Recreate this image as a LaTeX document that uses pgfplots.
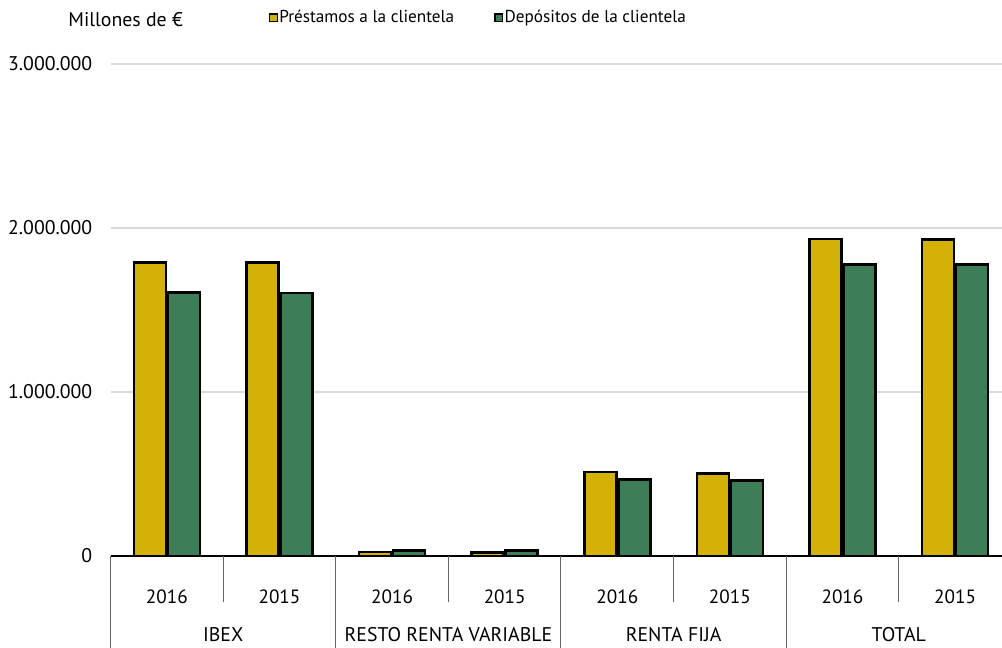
\documentclass[border=0pt]{standalone}
\usepackage{fontspec}
\setmainfont{PT Sans}
\usepackage{pgfplots}
\pgfplotsset{compat=1.18}
\definecolor{cYel}{HTML}{D3B106}
\definecolor{cGrn}{HTML}{3D7D58}
\definecolor{cGrid}{HTML}{DADADA}
\begin{document}
\begin{tikzpicture}
\useasboundingbox (0,0) rectangle (501pt,324pt);
\begin{axis}[
  at={(55.3pt,46pt)}, anchor=south west,
  scale only axis, width=450.4pt, height=246pt,
  xmin=-0.5, xmax=7.5, ymin=0, ymax=3000000,
  scaled y ticks=false,
  axis x line*=bottom, axis y line*=left,
  y axis line style={draw=none},
  x axis line style={black, line width=0.6pt},
  xtick=data,
  xticklabels={2016,2015,2016,2015,2016,2015,2016,2015},
  xtick style={draw=none},
  xticklabel style={anchor=center, yshift=-16pt, font=\fontsize{9.6}{11}\selectfont},
  ytick={0,1000000,2000000,3000000},
  yticklabels={0,1.000.000,2.000.000,3.000.000},
  ytick style={draw=none},
  yticklabel style={anchor=east, inner sep=0pt, xshift=-9pt, font=\fontsize{9.9}{11}\selectfont},
  ymajorgrids, grid style={cGrid, line width=0.6pt},
  ybar, bar width=0.284,
  clip=false,
  legend columns=2,
  legend style={at={(0.1755,1.094)}, anchor=west, draw=none, fill=none, inner sep=0pt,
    nodes={inner xsep=0.6pt},
    font=\fontsize{8.6}{11}\selectfont, /tikz/every even column/.append style={column sep=19.5pt}},
  legend image code/.code={\draw[#1, line width=0.7pt] (0pt,-1.9pt) rectangle (3.8pt,1.9pt);},
]
\addplot[fill=cYel, draw=black, line width=1.35pt, bar shift=-0.151] coordinates {
  (0,1791000) (1,1791000) (2,24000) (3,22000) (4,512000) (5,502000) (6,1933000) (7,1929000)};
\addplot[fill=cGrn, draw=black, line width=1.35pt, bar shift=0.151] coordinates {
  (0,1608000) (1,1604000) (2,32000) (3,35000) (4,465000) (5,461000) (6,1776000) (7,1776000)};
\legend{Préstamos a la clientela, Depósitos de la clientela}
% category separators
\draw[gray!80!black, line width=0.5pt] (axis cs:0.5,0) -- ([yshift=-23pt]axis cs:0.5,0);
\draw[gray!80!black, line width=0.5pt] (axis cs:2.5,0) -- ([yshift=-23pt]axis cs:2.5,0);
\draw[gray!80!black, line width=0.5pt] (axis cs:4.5,0) -- ([yshift=-23pt]axis cs:4.5,0);
\draw[gray!80!black, line width=0.5pt] (axis cs:6.5,0) -- ([yshift=-23pt]axis cs:6.5,0);
\draw[gray!80!black, line width=0.5pt] (axis cs:-0.5,0) -- ([yshift=-46pt]axis cs:-0.5,0);
\draw[gray!80!black, line width=0.5pt] (axis cs:1.5,0) -- ([yshift=-46pt]axis cs:1.5,0);
\draw[gray!80!black, line width=0.5pt] (axis cs:3.5,0) -- ([yshift=-46pt]axis cs:3.5,0);
\draw[gray!80!black, line width=0.5pt] (axis cs:5.5,0) -- ([yshift=-46pt]axis cs:5.5,0);
\node[font=\fontsize{9.9}{11}\selectfont] at ([yshift=-39.5pt]axis cs:0.5,0) {IBEX};
\node[font=\fontsize{9.9}{11}\selectfont] at ([yshift=-39.5pt]axis cs:2.5,0) {RESTO RENTA VARIABLE};
\node[font=\fontsize{9.9}{11}\selectfont] at ([yshift=-39.5pt]axis cs:4.5,0) {RENTA FIJA};
\node[font=\fontsize{9.9}{11}\selectfont] at ([yshift=-39.5pt]axis cs:6.5,0) {TOTAL};
\end{axis}
\node[anchor=west, inner sep=0pt, font=\fontsize{9.9}{11}\selectfont] at (34pt,314pt) {Millones de €};
\end{tikzpicture}
\end{document}
